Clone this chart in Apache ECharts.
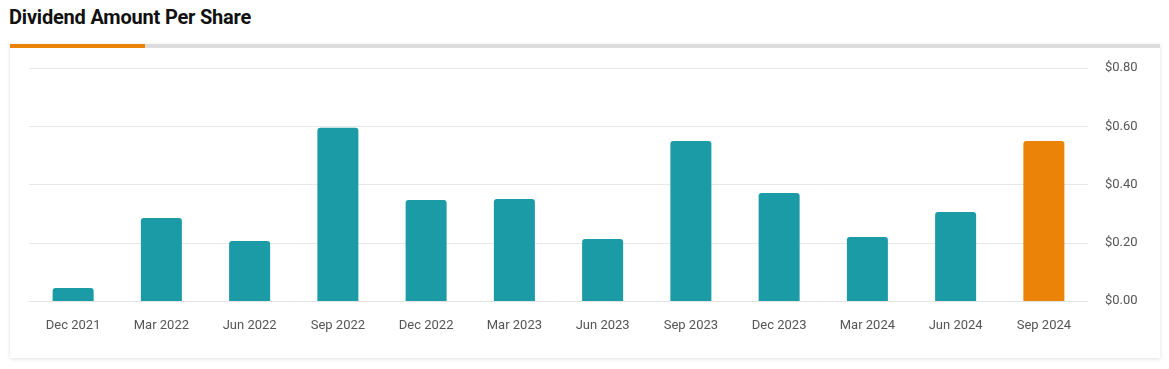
<!DOCTYPE html>
<html>
<head>
<meta charset="utf-8">
<script src="https://cdn.jsdelivr.net/npm/echarts@6/dist/echarts.min.js"></script>
<style>
  html, body { margin: 0; padding: 0; background: #fff; width: 1169px; height: 369px; overflow: hidden; }
  #title { position: absolute; left: 9px; top: 5px; font: 700 20px Roboto, sans-serif; color: #111; letter-spacing: -0.2px; }
  #card { position: absolute; left: 10px; top: 44px; width: 1150px; height: 314px; background: #fff;
          border-top: 4px solid #dcdcdc; box-sizing: border-box; box-shadow: 0 1px 4px rgba(0,0,0,0.12); }
  #accent { position: absolute; left: 0; top: -4px; width: 135px; height: 4px; background: #eb8308; }
  #chart { position: absolute; left: 0; top: 0; width: 1169px; height: 369px; }
</style>
</head>
<body>
<div id="title">Dividend Amount Per Share</div>
<div id="card"><div id="accent"></div></div>
<div id="chart"></div>
<script>
(
    function () {
        var categories = ['Dec 2021', 'Mar 2022', 'Jun 2022', 'Sep 2022', 'Dec 2022', 'Mar 2023',
                          'Jun 2023', 'Sep 2023', 'Dec 2023', 'Mar 2024', 'Jun 2024', 'Sep 2024'];
        var dividends = [0.045, 0.285, 0.206, 0.595, 0.347, 0.350, 0.213, 0.549, 0.371, 0.220, 0.306, 0.549];
        var highlightIndex = 11;

        var chart = echarts.init(document.getElementById('chart'));

        var option = {
            animation: false,
            grid: { left: 29, right: 81, top: 68, bottom: 68 },
            xAxis: {
                type: 'category',
                data: categories,
                axisTick: { show: false },
                axisLine: { lineStyle: { color: '#e3e3e3' } },
                axisLabel: { color: '#555', fontSize: 13, fontFamily: 'Roboto', margin: 18 }
            },
            yAxis: {
                type: 'value',
                position: 'right',
                min: 0,
                max: 0.8,
                interval: 0.2,
                axisLine: { show: false },
                axisTick: { show: false },
                splitLine: { lineStyle: { color: '#e8e8e8' } },
                axisLabel: {
                    color: '#555', fontSize: 13, fontFamily: 'Roboto', margin: 17,
                    formatter: function (v) { return '$' + v.toFixed(2); }
                }
            },
            series: [{
                type: 'bar',
                barWidth: 41,
                data: dividends.map(function (v, i) {
                    return {
                        value: v,
                        itemStyle: { color: i === highlightIndex ? '#eb8308' : '#1a9ba6' }
                    };
                }),
                itemStyle: { borderRadius: [3, 3, 0, 0] }
            }]
        };
        chart.setOption(option);
    }()
)
</script>
</body>
</html>
